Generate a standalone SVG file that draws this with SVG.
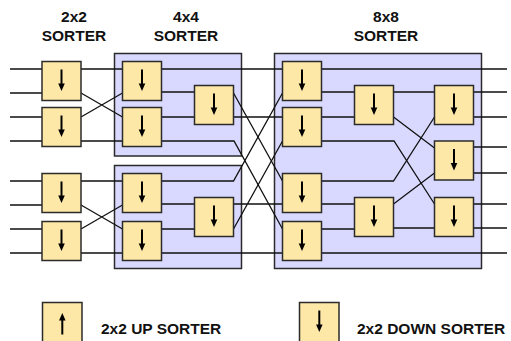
<svg xmlns="http://www.w3.org/2000/svg" xmlns:xlink="http://www.w3.org/1999/xlink" width="511" height="341" viewBox="0 0 511 341">
<defs>
<style>
.box{fill:#FEE8A8;stroke:#2b2b2b;stroke-width:1.5}
.cont{fill:#D9D9FF;stroke:#2b2b2b;stroke-width:1.5}
.w{fill:none;stroke:#111;stroke-width:1.3}
.t{font-family:"Liberation Sans",Arial,sans-serif;font-weight:bold;font-size:15.5px;fill:#111}
</style>
<g id="dn"><path d="M0,-11.5V4" stroke="#000" stroke-width="2" fill="none"/><path d="M-3.3,2.5H3.3L0,10Z" fill="#000"/></g>
<g id="up"><use xlink:href="#dn" transform="rotate(180)"/></g>
</defs>
<rect width="511" height="341" fill="#fff"/>

<g id="titles" class="t" text-anchor="middle">
<text x="74" y="22">2x2</text><text x="74" y="40.5">SORTER</text>
<text x="186" y="22">4x4</text><text x="186" y="40.5">SORTER</text>
<text x="386" y="22">8x8</text><text x="386" y="40.5">SORTER</text>
</g>

<g id="sorter4x4-top"><rect class="cont" x="114.5" y="53.5" width="127" height="102.5"/></g>
<g id="sorter4x4-bottom"><rect class="cont" x="114.5" y="165.5" width="127" height="103"/></g>
<g id="sorter8x8"><rect class="cont" x="274.5" y="53.5" width="207" height="215"/></g>

<g id="connectors" class="w">
<path d="M10,69H42M10,93H42M10,117H42M10,141H42M10,181H42M10,205H42M10,229H42M10,253H42"/>
<path d="M81,69H122.5M81,93L122.5,117M81,117L122.5,93M81,141H122.5"/>
<path d="M81,181H122.5M81,205L122.5,229M81,229L122.5,205M81,253H122.5"/>
<path d="M161.5,69H282.5M161.5,92H194.5M161.5,117H194.5M161.5,141H234L282.5,229"/>
<path d="M233.5,93L282.5,181M233.5,117H282.5"/>
<path d="M161.5,181H233.5L282.5,93M161.5,204H194.5M161.5,229H194.5M161.5,253H282.5"/>
<path d="M233.5,204H282.5M233.5,229L282.5,141"/>
<path d="M321.5,69H507M321.5,92H354.5M321.5,117H354.5M321.5,141H394L434.5,204"/>
<path d="M321.5,181H393.5L434.5,117M321.5,204H354.5M321.5,229H354.5M321.5,253H507"/>
<path d="M393.5,92H434.5M393.5,117L434.5,148M393.5,204L434.5,173M393.5,228H434.5"/>
<path d="M473.5,92H507M473.5,117H507M473.5,147H507M473.5,173H507M473.5,204H507M473.5,228H507"/>
</g>

<g id="s2-1"><rect class="box" x="42" y="61.5" width="39" height="39"/><use xlink:href="#dn" x="61.5" y="81"/></g>
<g id="s2-2"><rect class="box" x="42" y="107.5" width="39" height="39"/><use xlink:href="#dn" x="61.5" y="127"/></g>
<g id="s2-3"><rect class="box" x="42" y="173.5" width="39" height="39"/><use xlink:href="#dn" x="61.5" y="193"/></g>
<g id="s2-4"><rect class="box" x="42" y="221.5" width="39" height="39"/><use xlink:href="#dn" x="61.5" y="241"/></g>

<g id="s4a-1"><rect class="box" x="122.5" y="61.5" width="39" height="39"/><use xlink:href="#dn" x="142" y="81"/></g>
<g id="s4a-2"><rect class="box" x="122.5" y="107.5" width="39" height="39"/><use xlink:href="#dn" x="142" y="127"/></g>
<g id="s4a-3"><rect class="box" x="194.5" y="85.5" width="39" height="39"/><use xlink:href="#dn" x="214" y="105"/></g>
<g id="s4b-1"><rect class="box" x="122.5" y="173.5" width="39" height="39"/><use xlink:href="#dn" x="142" y="193"/></g>
<g id="s4b-2"><rect class="box" x="122.5" y="221.5" width="39" height="39"/><use xlink:href="#dn" x="142" y="241"/></g>
<g id="s4b-3"><rect class="box" x="194.5" y="197.5" width="39" height="39"/><use xlink:href="#dn" x="214" y="217"/></g>

<g id="s8-1"><rect class="box" x="282.5" y="61.5" width="39" height="39"/><use xlink:href="#dn" x="302" y="81"/></g>
<g id="s8-2"><rect class="box" x="282.5" y="107.5" width="39" height="39"/><use xlink:href="#dn" x="302" y="127"/></g>
<g id="s8-3"><rect class="box" x="282.5" y="173.5" width="39" height="39"/><use xlink:href="#dn" x="302" y="193"/></g>
<g id="s8-4"><rect class="box" x="282.5" y="221.5" width="39" height="39"/><use xlink:href="#dn" x="302" y="241"/></g>
<g id="s8-5"><rect class="box" x="354.5" y="85.5" width="39" height="39"/><use xlink:href="#dn" x="374" y="105"/></g>
<g id="s8-6"><rect class="box" x="354.5" y="197.5" width="39" height="39"/><use xlink:href="#dn" x="374" y="217"/></g>
<g id="s8-7"><rect class="box" x="434.5" y="85.5" width="39" height="39"/><use xlink:href="#dn" x="454" y="105"/></g>
<g id="s8-8"><rect class="box" x="434.5" y="141" width="39" height="39"/><use xlink:href="#dn" x="454" y="160.5"/></g>
<g id="s8-9"><rect class="box" x="434.5" y="197.5" width="39" height="39"/><use xlink:href="#dn" x="454" y="217"/></g>

<g id="legend-up"><rect class="box" x="42.5" y="302.5" width="39.5" height="40"/><use xlink:href="#up" x="62.3" y="323"/><text class="t" x="101" y="333.5">2x2 UP SORTER</text></g>
<g id="legend-down"><rect class="box" x="299.5" y="302.5" width="39.5" height="40"/><use xlink:href="#dn" x="319.3" y="322"/><text class="t" x="357" y="333.5">2x2 DOWN SORTER</text></g>
</svg>
